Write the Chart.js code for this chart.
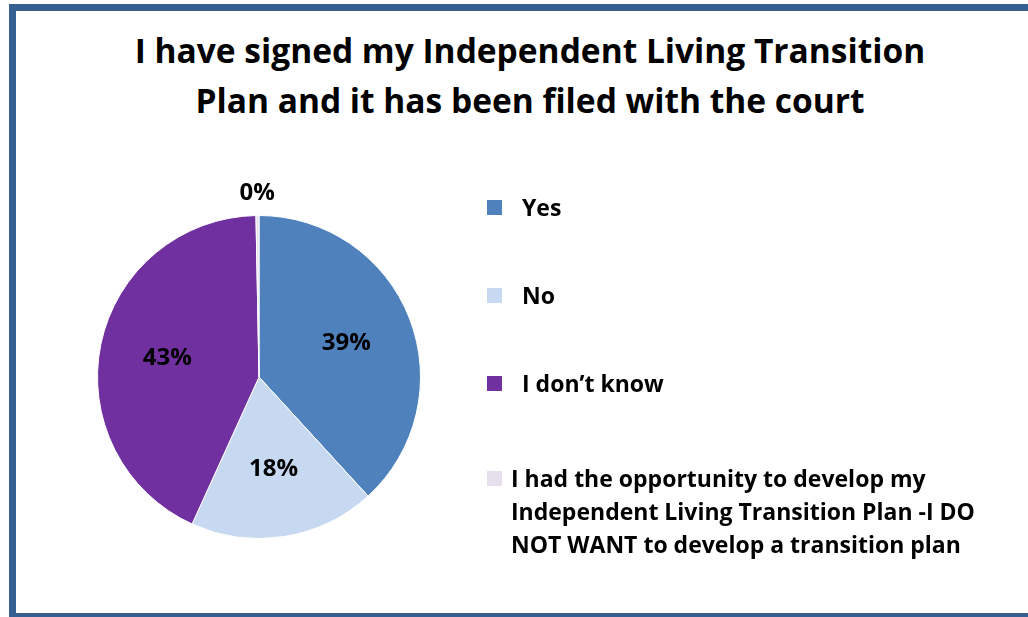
<!DOCTYPE html>
<html>
<head>
<meta charset="utf-8">
<script src="https://cdn.jsdelivr.net/npm/chart.js@4"></script>
<style>
  html, body { margin: 0; padding: 0; background: #fff; }
  body { width: 1028px; height: 617px; position: relative; overflow: hidden; font-family: "Open Sans", sans-serif; }
  #frame { position: absolute; left: 9px; top: 4px; width: 1040px; height: 602px; border: 7px solid #366092; }
  #title { position: absolute; left: 16px; width: 1028px; top: 25px; text-align: center; font-weight: bold; font-size: 33.5px; line-height: 50px; color: #000; }
  #chart-wrap { position: absolute; left: 0; top: 0; width: 1028px; height: 617px; }
  #legend { position: absolute; left: 487px; top: 0; font-weight: bold; font-size: 23px; color: #000; }
  .item { position: absolute; left: 0; white-space: nowrap; }
  .box { position: absolute; left: 0; width: 15px; height: 15px; }
  .txt { position: absolute; left: 35px; line-height: 33px; }
</style>
</head>
<body>
<div id="frame"></div>
<div id="title">I have signed my Independent Living Transition<br>Plan and it has been filed with the court</div>
<div id="chart-wrap"><canvas id="c" width="1028" height="617"></canvas></div>
<div id="legend"></div>
<script>
// chart values
var labels = ['Yes', 'No', 'I don\u2019t know',
  'I had the opportunity to develop my Independent Living Transition Plan -I DO NOT WANT to develop a transition plan'];
var legendLines = [['Yes'], ['No'], ['I don\u2019t know'],
  ['I had the opportunity to develop my', 'Independent Living Transition Plan -I DO', 'NOT WANT to develop a transition plan']];
var values = [38.2, 18.6, 42.9, 0.3];
var pctLabels = ['39%', '18%', '43%', '0%'];
var colors = ['#4F81BD', '#C6D9F1', '#7030A0', '#E6E0EC'];

// legend built from the same arrays
var legendTops = [208, 296, 384, 479];
var legend = document.getElementById('legend');
for (let i = 0; i < labels.length; i++) {
   var item = document.createElement('div');
   item.className = 'item';
   item.style.top = legendTops[i] + 'px';
   var box = document.createElement('div');
   box.className = 'box';
   box.style.background = colors[i];
   box.style.top = '-8px';
   var txt = document.createElement('div');
   txt.className = 'txt';
   txt.style.top = '-17px';
   if (i === 3) txt.style.left = '24px';
   txt.innerHTML = legendLines[i].join('<br>');
   item.appendChild(box);
   item.appendChild(txt);
   legend.appendChild(item);
}

var pctPlugin = {
   id: 'pctLabels',
   afterDatasetsDraw: function(chart) {
      var ctx = chart.ctx;
      var meta = chart.getDatasetMeta(0);
      ctx.save();
      ctx.font = 'bold 24px "Open Sans"';
      ctx.fillStyle = '#000';
      ctx.textAlign = 'center';
      ctx.textBaseline = 'middle';
      meta.data.forEach(function(arc, i) {
         var p = arc.getProps(['x', 'y', 'startAngle', 'endAngle', 'outerRadius'], true);
         var mid = (p.startAngle + p.endAngle) / 2;
         var r = values[i] < 2 ? p.outerRadius * 1.14 : p.outerRadius * 0.58;
         ctx.fillText(pctLabels[i], p.x + Math.cos(mid) * r, p.y + Math.sin(mid) * r);
      });
      ctx.restore();
   }
};

new Chart(document.getElementById('c'), {
   type: 'pie',
   data: {
      labels: labels,
      datasets: [{
         data: values,
         backgroundColor: colors,
         borderColor: '#fff',
         borderWidth: 1
      }]
   },
   options: {
      responsive: false,
      animation: false,
      layout: { padding: { left: 97, right: 607, top: 215, bottom: 78 } },
      plugins: {
         legend: { display: false },
         title: { display: false },
         tooltip: { enabled: false }
      }
   },
   plugins: [pctPlugin]
});
</script>
</body>
</html>
